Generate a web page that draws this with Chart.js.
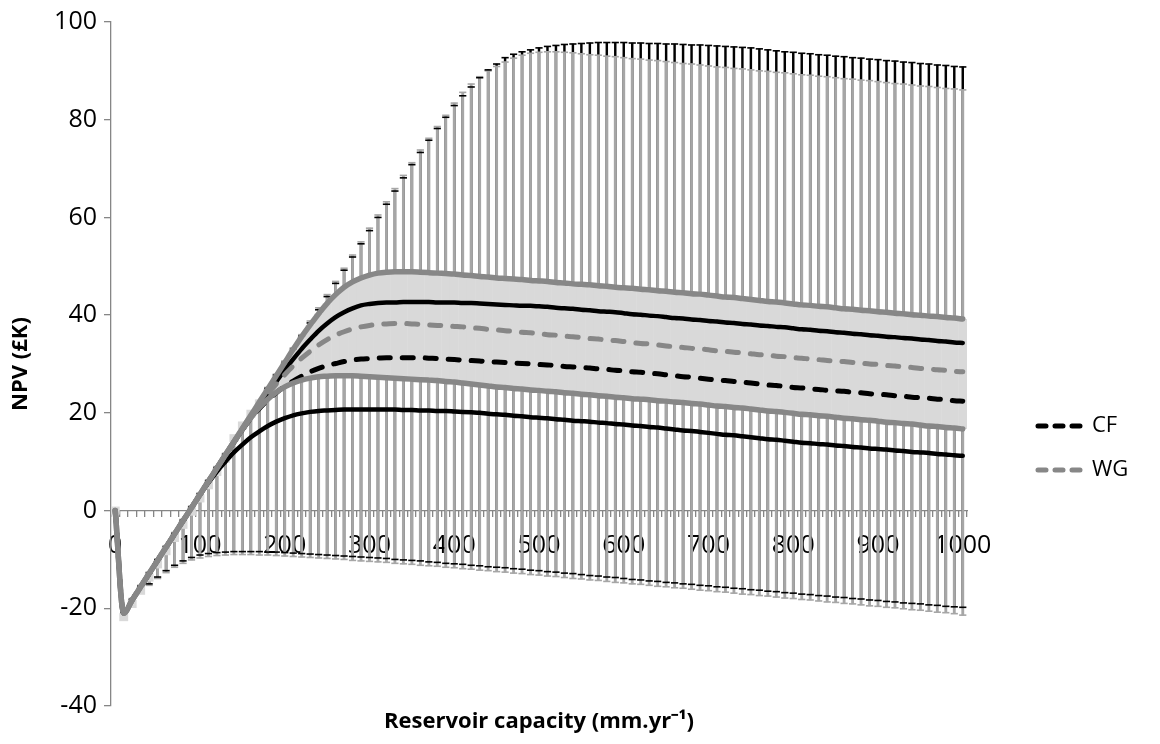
<!DOCTYPE html>
<html lang="en">
<head>
  <meta charset="UTF-8">
  <title>NPV vs reservoir capacity</title>
  <script src="https://cdn.jsdelivr.net/npm/chart.js"></script>
  <style>
    body { margin: 0; background: #fff; }
  </style>
</head>
<body>
  <canvas id="npvChart" width="1160" height="744"></canvas>

  <script>
    // reservoir capacity (mm/yr), one point every 10
    const capacity = [
      0, 10, 20, 30, 40, 50, 60, 70, 80, 90,
      100, 110, 120, 130, 140, 150, 160, 170, 180, 190,
      200, 210, 220, 230, 240, 250, 260, 270, 280, 290,
      300, 310, 320, 330, 340, 350, 360, 370, 380, 390,
      400, 410, 420, 430, 440, 450, 460, 470, 480, 490,
      500, 510, 520, 530, 540, 550, 560, 570, 580, 590,
      600, 610, 620, 630, 640, 650, 660, 670, 680, 690,
      700, 710, 720, 730, 740, 750, 760, 770, 780, 790,
      800, 810, 820, 830, 840, 850, 860, 870, 880, 890,
      900, 910, 920, 930, 940, 950, 960, 970, 980, 990,
      1000
    ];
    const xTickLabels = [0, 100, 200, 300, 400, 500, 600, 700, 800, 900, 1000];

    // WG: mean, mean +/- SD, max, min (NPV in £K)
    const wgMean = [
      0, -21, -18.3, -15.6, -12.9, -10.2, -7.5, -4.8, -2.1, 0.6,
      3.3, 6.0, 8.7, 11.4, 14.1, 16.8, 19.4, 21.7, 23.9, 25.9,
      27.8, 29.6, 31.2, 32.6, 33.9, 35.0, 35.9, 36.6, 37.2, 37.6,
      37.9, 38.1, 38.2, 38.3, 38.3, 38.2, 38.1, 38.0, 37.9, 37.8,
      37.7, 37.6, 37.4, 37.3, 37.1, 37.0, 36.8, 36.7, 36.5, 36.4,
      36.2, 36.0, 35.9, 35.7, 35.6, 35.4, 35.2, 35.1, 34.9, 34.8,
      34.6, 34.4, 34.2, 34.1, 33.9, 33.7, 33.5, 33.4, 33.2, 33.1,
      32.9, 32.7, 32.6, 32.4, 32.3, 32.1, 31.9, 31.8, 31.6, 31.5,
      31.3, 31.2, 31.0, 30.9, 30.7, 30.6, 30.5, 30.3, 30.2, 30.0,
      29.9, 29.7, 29.6, 29.4, 29.3, 29.1, 29.0, 28.8, 28.7, 28.5,
      28.4
    ];
    const wgHi = [
      0, -21, -18.3, -15.6, -12.9, -10.2, -7.5, -4.8, -2.1, 0.6,
      3.3, 6.0, 8.7, 11.4, 14.1, 16.8, 19.5, 22.2, 24.9, 27.6,
      30.3, 33.0, 35.6, 38.0, 40.3, 42.4, 44.2, 45.7, 46.8, 47.6,
      48.2, 48.6, 48.8, 48.9, 48.9, 48.9, 48.8, 48.7, 48.6, 48.5,
      48.4, 48.2, 48.1, 47.9, 47.8, 47.6, 47.5, 47.4, 47.3, 47.1,
      47.0, 46.9, 46.7, 46.6, 46.4, 46.3, 46.2, 46.0, 45.9, 45.7,
      45.6, 45.5, 45.3, 45.2, 45.0, 44.9, 44.7, 44.6, 44.4, 44.3,
      44.1, 43.9, 43.7, 43.6, 43.4, 43.2, 43.0, 42.8, 42.7, 42.5,
      42.3, 42.1, 42.0, 41.8, 41.7, 41.5, 41.3, 41.2, 41.0, 40.9,
      40.7, 40.6, 40.4, 40.3, 40.1, 40.0, 39.8, 39.7, 39.5, 39.4,
      39.2
    ];
    const wgLo = [
      0, -21, -18.3, -15.6, -12.9, -10.2, -7.5, -4.8, -2.1, 0.6,
      3.3, 6.0, 8.7, 11.4, 14.0, 16.6, 19.0, 21.1, 22.8, 24.2,
      25.3, 26.1, 26.7, 27.1, 27.4, 27.5, 27.6, 27.6, 27.6, 27.5,
      27.4, 27.3, 27.2, 27.1, 27.0, 26.9, 26.8, 26.7, 26.6, 26.4,
      26.3, 26.1, 25.9, 25.7, 25.5, 25.3, 25.2, 25.0, 24.9, 24.7,
      24.6, 24.4, 24.3, 24.1, 24.0, 23.8, 23.7, 23.5, 23.4, 23.2,
      23.1, 22.9, 22.8, 22.7, 22.5, 22.4, 22.2, 22.1, 21.9, 21.8,
      21.6, 21.4, 21.3, 21.1, 21.0, 20.8, 20.6, 20.4, 20.3, 20.1,
      19.9, 19.7, 19.6, 19.4, 19.3, 19.1, 18.9, 18.8, 18.6, 18.5,
      18.3, 18.1, 18.0, 17.8, 17.7, 17.5, 17.3, 17.2, 17.0, 16.9,
      16.7
    ];
    const wgMax = [
      0, -21, -18.0, -15.3, -12.6, -9.9, -7.2, -4.5, -1.8, 0.9,
      3.6, 6.3, 9.0, 11.7, 14.4, 17.1, 19.8, 22.5, 25.2, 27.9,
      30.6, 33.3, 36.0, 38.8, 41.5, 44.2, 46.9, 49.6, 52.3, 55.0,
      57.8, 60.5, 63.2, 65.9, 68.6, 71.2, 73.8, 76.2, 78.6, 80.9,
      83.4, 85.6, 87.3, 88.8, 90.0, 90.9, 91.8, 92.6, 93.2, 93.6,
      93.8, 93.9, 93.9, 93.8, 93.7, 93.5, 93.3, 93.2, 93.0, 92.9,
      92.7, 92.5, 92.4, 92.2, 92.1, 91.9, 91.7, 91.5, 91.4, 91.2,
      91.0, 90.8, 90.7, 90.5, 90.4, 90.2, 90.0, 89.9, 89.7, 89.6,
      89.4, 89.2, 89.1, 88.9, 88.8, 88.6, 88.4, 88.3, 88.1, 88.0,
      87.8, 87.6, 87.4, 87.3, 87.1, 86.9, 86.8, 86.6, 86.4, 86.3,
      86.1
    ];
    const wgMin = [
      0, -21, -18.7, -16.9, -15.3, -13.9, -12.7, -11.6, -10.8, -10.1,
      -9.7, -9.4, -9.2, -9.1, -9.0, -9.0, -9.0, -9.1, -9.1, -9.2,
      -9.3, -9.4, -9.5, -9.6, -9.7, -9.8, -9.9, -10.0, -10.2, -10.3,
      -10.4, -10.5, -10.6, -10.8, -10.9, -11.0, -11.2, -11.3, -11.4, -11.6,
      -11.7, -11.9, -12.0, -12.2, -12.3, -12.5, -12.6, -12.8, -12.9, -13.1,
      -13.2, -13.4, -13.5, -13.7, -13.9, -14.0, -14.2, -14.3, -14.5, -14.7,
      -14.8, -15.0, -15.1, -15.3, -15.5, -15.6, -15.8, -15.9, -16.1, -16.3,
      -16.4, -16.6, -16.7, -16.9, -17.1, -17.2, -17.4, -17.5, -17.7, -17.9,
      -18.0, -18.2, -18.3, -18.5, -18.7, -18.8, -19.0, -19.1, -19.3, -19.5,
      -19.6, -19.8, -19.9, -20.1, -20.3, -20.4, -20.6, -20.8, -20.9, -21.1,
      -21.4
    ];

    // CF: mean, mean +/- SD, max, min (NPV in £K)
    const cfMean = [
      0, -21, -18.3, -15.6, -12.9, -10.2, -7.5, -4.8, -2.1, 0.6,
      3.3, 6.0, 8.7, 11.4, 14.0, 16.6, 18.9, 20.9, 22.6, 24.1,
      25.4, 26.5, 27.5, 28.4, 29.1, 29.7, 30.1, 30.5, 30.8, 31.0,
      31.1, 31.2, 31.3, 31.3, 31.3, 31.3, 31.3, 31.2, 31.1, 31.0,
      30.9, 30.8, 30.7, 30.6, 30.5, 30.4, 30.3, 30.2, 30.1, 30.0,
      29.9, 29.8, 29.7, 29.5, 29.4, 29.3, 29.2, 29.0, 28.9, 28.7,
      28.6, 28.4, 28.3, 28.1, 28.0, 27.8, 27.6, 27.4, 27.3, 27.1,
      26.9, 26.7, 26.6, 26.4, 26.3, 26.1, 25.9, 25.7, 25.6, 25.4,
      25.2, 25.1, 24.9, 24.8, 24.6, 24.5, 24.4, 24.2, 24.1, 23.9,
      23.8, 23.7, 23.5, 23.4, 23.2, 23.1, 23.0, 22.8, 22.7, 22.5,
      22.4
    ];
    const cfHi = [
      0, -21, -18.3, -15.6, -12.9, -10.2, -7.5, -4.8, -2.1, 0.6,
      3.3, 6.0, 8.7, 11.3, 13.9, 16.5, 19.0, 21.5, 24.0, 26.4,
      28.8, 31.0, 33.1, 35.0, 36.8, 38.3, 39.6, 40.6, 41.4, 42.0,
      42.3, 42.5, 42.6, 42.6, 42.7, 42.7, 42.7, 42.7, 42.6, 42.6,
      42.6, 42.5, 42.5, 42.4, 42.3, 42.2, 42.1, 42.0, 41.9, 41.9,
      41.8, 41.7, 41.5, 41.4, 41.3, 41.1, 41.0, 40.8, 40.7, 40.6,
      40.4, 40.2, 40.1, 39.9, 39.8, 39.6, 39.4, 39.3, 39.1, 39.0,
      38.8, 38.7, 38.5, 38.4, 38.2, 38.1, 37.9, 37.8, 37.6, 37.5,
      37.3, 37.1, 37.0, 36.8, 36.7, 36.5, 36.4, 36.2, 36.1, 35.9,
      35.8, 35.6, 35.5, 35.3, 35.2, 35.0, 34.9, 34.7, 34.6, 34.4,
      34.3
    ];
    const cfLo = [
      0, -21, -18.3, -15.6, -12.9, -10.2, -7.5, -4.8, -2.1, 0.6,
      3.2, 5.7, 8.0, 10.0, 11.9, 13.5, 15.0, 16.2, 17.3, 18.2,
      18.9, 19.5, 19.9, 20.2, 20.4, 20.5, 20.6, 20.7, 20.7, 20.7,
      20.7, 20.7, 20.7, 20.7, 20.6, 20.6, 20.5, 20.5, 20.4, 20.4,
      20.3, 20.2, 20.1, 20.0, 19.8, 19.7, 19.6, 19.4, 19.3, 19.1,
      19.0, 18.9, 18.7, 18.6, 18.4, 18.3, 18.2, 18.0, 17.9, 17.7,
      17.6, 17.4, 17.3, 17.1, 17.0, 16.8, 16.6, 16.4, 16.3, 16.1,
      15.9, 15.7, 15.5, 15.4, 15.2, 15.0, 14.8, 14.6, 14.5, 14.3,
      14.1, 13.9, 13.8, 13.6, 13.5, 13.3, 13.2, 13.0, 12.9, 12.7,
      12.6, 12.5, 12.3, 12.2, 12.0, 11.9, 11.8, 11.6, 11.5, 11.3,
      11.2
    ];
    const cfMax = [
      0, -21, -18.2, -15.5, -12.8, -10.1, -7.4, -4.7, -2.0, 0.7,
      3.4, 6.1, 8.8, 11.5, 14.2, 16.9, 19.6, 22.3, 25.0, 27.7,
      30.3, 33.0, 35.7, 38.4, 41.1, 43.8, 46.5, 49.2, 51.9, 54.6,
      57.3, 60.0, 62.7, 65.4, 68.1, 70.8, 73.3, 75.8, 78.2, 80.5,
      82.9, 84.9, 86.7, 88.6, 90.2, 91.4, 92.7, 93.4, 93.9, 94.3,
      94.7, 95.0, 95.2, 95.4, 95.5, 95.6, 95.7, 95.8, 95.8, 95.8,
      95.8, 95.7, 95.7, 95.6, 95.6, 95.5, 95.5, 95.4, 95.3, 95.3,
      95.2, 95.1, 95.0, 94.9, 94.8, 94.7, 94.5, 94.3, 94.1, 93.9,
      93.8, 93.6, 93.5, 93.3, 93.2, 93.0, 92.9, 92.7, 92.6, 92.4,
      92.3, 92.1, 92.0, 91.8, 91.7, 91.5, 91.4, 91.2, 91.1, 90.9,
      90.8
    ];
    const cfMin = [
      0, -21, -18.5, -16.6, -15.0, -13.6, -12.3, -11.2, -10.3, -9.6,
      -9.1, -8.8, -8.6, -8.5, -8.4, -8.4, -8.4, -8.4, -8.5, -8.5,
      -8.6, -8.7, -8.8, -8.9, -9.0, -9.1, -9.2, -9.3, -9.4, -9.5,
      -9.6, -9.7, -9.8, -10.0, -10.1, -10.2, -10.3, -10.5, -10.6, -10.8,
      -10.9, -11.0, -11.2, -11.3, -11.5, -11.6, -11.7, -11.9, -12.0, -12.2,
      -12.3, -12.5, -12.6, -12.8, -12.9, -13.1, -13.3, -13.4, -13.6, -13.7,
      -13.9, -14.1, -14.2, -14.4, -14.5, -14.7, -14.8, -15.0, -15.1, -15.3,
      -15.4, -15.6, -15.7, -15.9, -16.0, -16.2, -16.3, -16.5, -16.6, -16.8,
      -16.9, -17.1, -17.2, -17.4, -17.5, -17.7, -17.8, -18.0, -18.1, -18.3,
      -18.4, -18.6, -18.7, -18.9, -19.0, -19.1, -19.3, -19.4, -19.6, -19.7,
      -19.8
    ];

    const axisGray = '#868686';
    const lineGray = '#878787';
    const barGray = '#a6a6a6';
    const bandGray = '#d9d9d9';

    Chart.defaults.font.family = "'Open Sans', sans-serif";
    Chart.defaults.color = '#000';

    // min..max bars, drawn as thin floating bars
    function rangeBars(lo, hi, color, width, order) {
      return {
        type: 'bar',
        data: capacity.map((c, i) => [lo[i], hi[i]]),
        backgroundColor: color,
        barThickness: width,
        grouped: false,
        order: order
      };
    }

    // little horizontal caps at the end of the bars
    function caps(vals, color, order) {
      return {
        type: 'line',
        data: vals,
        showLine: false,
        pointStyle: 'line',
        pointRadius: 3.6,
        pointBorderWidth: 1.6,
        pointBorderColor: color,
        borderColor: color,
        order: order
      };
    }

    function curve(vals, color, width, dash, order) {
      return {
        type: 'line',
        data: vals,
        borderColor: color,
        borderWidth: width,
        borderDash: dash,
        borderCapStyle: 'round',
        borderJoinStyle: 'round',
        cubicInterpolationMode: 'monotone',
        pointRadius: 0,
        fill: false,
        order: order
      };
    }

    // legend on the right, only the two mean lines
    const sideLegend = {
      id: 'sideLegend',
      afterDraw(chart) {
        const ctx = chart.ctx;
        const items = [
          { label: 'CF', color: '#000', y: 426 },
          { label: 'WG', color: lineGray, y: 470 }
        ];
        ctx.save();
        items.forEach(it => {
          ctx.beginPath();
          ctx.setLineDash([8, 9]);
          ctx.lineCap = 'round';
          ctx.lineWidth = 5;
          ctx.strokeStyle = it.color;
          ctx.moveTo(1038, it.y);
          ctx.lineTo(1080, it.y);
          ctx.stroke();
          ctx.setLineDash([]);
          ctx.fillStyle = '#000';
          ctx.font = "22px 'Open Sans', sans-serif";
          ctx.textBaseline = 'middle';
          ctx.textAlign = 'left';
          ctx.fillText(it.label, 1092, it.y);
        });
        ctx.restore();
      }
    };

    const ctx = document.getElementById('npvChart').getContext('2d');
    new Chart(ctx, {
      type: 'line',
      data: {
        labels: capacity,
        datasets: [
          rangeBars(cfMin, cfMax, '#000', 1.8, 20),
          rangeBars(wgMin, wgMax, barGray, 2.2, 19),
          caps(wgMax, barGray, 18),
          caps(wgMin, barGray, 18),
          caps(cfMax, '#000', 17),
          caps(cfMin, '#000', 17),
          {
            type: 'bar',
            data: capacity.map((c, i) => [wgLo[i], wgHi[i]]),
            backgroundColor: bandGray,
            barPercentage: 1.05,
            categoryPercentage: 1,
            grouped: false,
            minBarLength: 8,
            order: 16
          },
          curve(cfHi, '#000', 4.5, [], 15),
          curve(cfLo, '#000', 4.5, [], 15),
          curve(cfMean, '#000', 5, [11, 12], 14),
          curve(wgMean, lineGray, 5, [11, 12], 13),
          curve(wgHi, lineGray, 5.5, [], 12),
          curve(wgLo, lineGray, 5.5, [], 12)
        ]
      },
      options: {
        responsive: false,
        devicePixelRatio: 1,
        animation: false,
        events: [],
        layout: { padding: { left: 0, right: 193, top: 20, bottom: 0 } },
        plugins: {
          legend: { display: false },
          tooltip: { enabled: false }
        },
        scales: {
          x: {
            type: 'linear',
            position: { y: 0 },
            min: -5,
            max: 1005,
            offset: false,
            afterBuildTicks: s => { s.ticks = xTickLabels.map(v => ({ value: v })); },
            grid: { display: true, offset: false, drawOnChartArea: false, drawTicks: false },
            border: { display: true, color: axisGray, width: 1.3 },
            ticks: {
              autoSkip: false,
              maxRotation: 0,
              padding: 20,
              font: { size: 25 },
              callback: v => String(v)
            }
          },
          xMinor: {
            type: 'linear',
            axis: 'x',
            position: { y: 0 },
            min: -5,
            max: 1005,
            afterBuildTicks: s => { s.ticks = capacity.map(c => ({ value: c - 5 })).concat([{ value: 1005 }]); },
            grid: { display: true, offset: false, drawOnChartArea: false, drawTicks: true, tickLength: 6, color: axisGray, lineWidth: 1.3 },
            border: { display: false },
            ticks: { display: false }
          },
          xTitle: {
            type: 'linear',
            axis: 'x',
            position: 'bottom',
            min: -5,
            max: 1005,
            afterFit: s => { s.height = 38; },
            grid: { display: false },
            border: { display: false },
            ticks: { display: false },
            title: {
              display: true,
              text: 'Reservoir capacity (mm.yr\u207B\u00B9)',
              font: { size: 22, weight: 'bold' },
              padding: { top: 0, bottom: 9 }
            }
          },
          y: {
            min: -40,
            max: 100,
            afterFit: s => { s.width = 111; },
            grid: { display: true, drawOnChartArea: false, drawTicks: true, tickLength: 7, color: axisGray, lineWidth: 1.3 },
            border: { display: true, color: axisGray, width: 1.3 },
            ticks: { stepSize: 20, padding: 7, font: { size: 25 } },
            title: {
              display: true,
              text: 'NPV (£K)',
              font: { size: 22, weight: 'bold' },
              padding: { top: 8, bottom: 0 }
            }
          }
        }
      },
      plugins: [sideLegend]
    });
  </script>
</body>
</html>
